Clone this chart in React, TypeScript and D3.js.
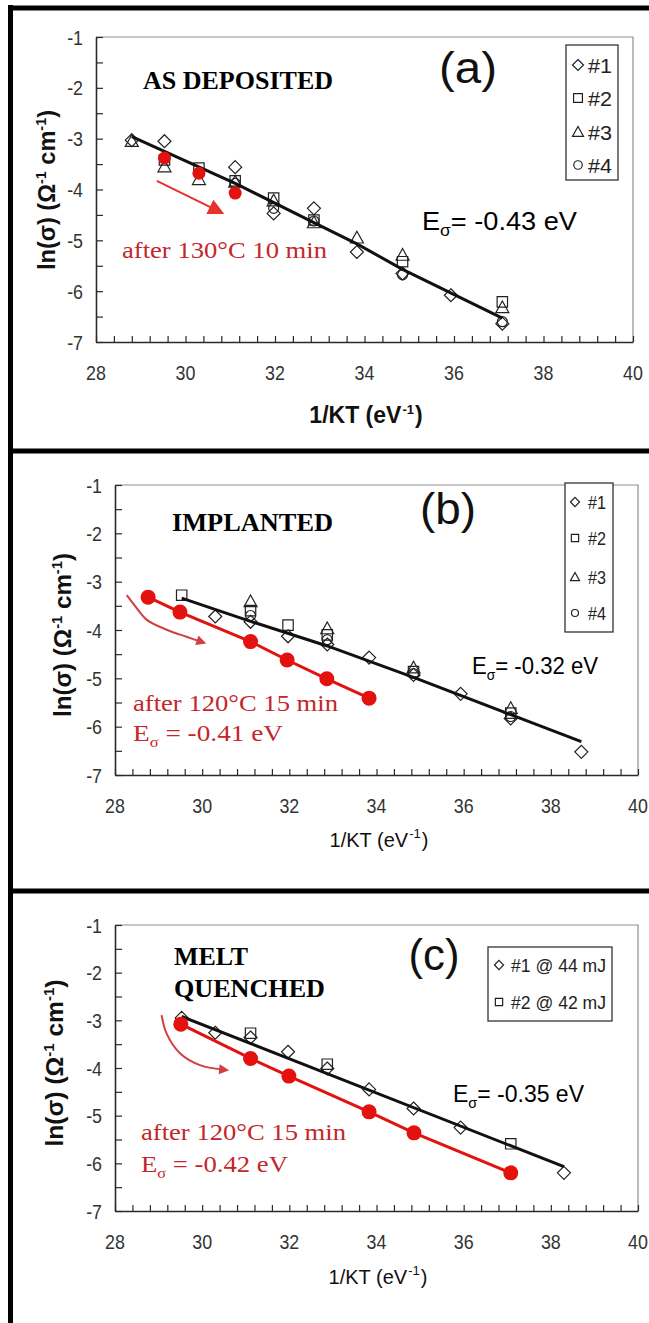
import React, { useEffect, useRef } from 'react';
import * as d3 from 'd3';

const W = 649;
const H = 1323;
const SERIF = '"Liberation Serif", "Times New Roman", serif';
const SANS = '"Liberation Sans", Arial, sans-serif';
const RED = '#e3120f';
const RED_TEXT = '#c4262b';

// tick values / labels shared by all three panels
const xTickLabels = [28, 30, 32, 34, 36, 38, 40];
const yTickLabels = [-1, -2, -3, -4, -5, -6, -7];
const xMinorTicks = d3.range(31).map(i => 28 + i * 0.4);
const yMinorTicks = d3.range(13).map(i => -7 + i * 0.5);

// ---- (a) AS DEPOSITED ----
const aDiamondX = [28.8, 29.53, 31.11, 31.97, 32.87, 33.83, 34.85, 35.93, 37.08];
const aDiamondY = [-3.03, -3.05, -3.56, -4.47, -4.37, -5.23, -5.65, -6.08, -6.64];
const aSquareX = [29.53, 30.3, 31.11, 31.97, 32.87, 34.85, 37.08];
const aSquareY = [-3.42, -3.58, -3.83, -4.17, -4.6, -5.42, -6.21];
const aTriangleX = [28.8, 29.53, 30.3, 31.11, 31.97, 32.87, 33.83, 34.85, 37.08];
const aTriangleY = [-3.05, -3.55, -3.8, -3.85, -4.22, -4.65, -4.95, -5.29, -6.32];
const aCircleX = [31.11, 31.97, 32.87, 34.85, 37.08];
const aCircleY = [-3.88, -4.37, -4.62, -5.68, -6.6];
const aRedX = [29.53, 30.3, 31.11];
const aRedY = [-3.38, -3.68, -4.07];
const aFitX = [28.8, 31.11, 32.87, 33.83, 34.85, 37.08];
const aFitY = [-2.96, -3.88, -4.65, -5.07, -5.57, -6.53];
const aArrowX = [29.36, 30.77];
const aArrowY = [-3.83, -4.44];

// ---- (b) IMPLANTED ----
const bDiamondX = [30.3, 31.11, 31.97, 32.87, 33.83, 34.85, 35.93, 37.08, 38.7];
const bDiamondY = [-3.72, -3.83, -4.13, -4.3, -4.57, -4.93, -5.32, -5.83, -6.52];
const bSquareX = [29.53, 31.11, 31.97, 32.87, 34.85, 37.08];
const bSquareY = [-3.28, -3.6, -3.9, -4.1, -4.86, -5.72];
const bTriangleX = [31.11, 32.87, 34.85, 37.08];
const bTriangleY = [-3.41, -3.97, -4.78, -5.62];
const bCircleX = [31.11, 32.87, 34.85, 37.08];
const bCircleY = [-3.7, -4.2, -4.9, -5.79];
const bRedX = [28.76, 29.49, 31.11, 31.95, 32.86, 33.83];
const bRedY = [-3.32, -3.63, -4.24, -4.62, -5.01, -5.41];
const bFitX = [29.53, 31.11, 32.87, 34.85, 37.08, 38.7];
const bFitY = [-3.34, -3.82, -4.33, -4.98, -5.75, -6.31];
const bArrowX = [28.27, 28.5, 28.73, 29.2, 29.64, 30.03];
const bArrowY = [-3.28, -3.55, -3.79, -4.0, -4.14, -4.26];

// ---- (c) MELT QUENCHED ----
const cDiamondX = [29.53, 30.3, 31.11, 31.97, 32.87, 33.83, 34.85, 35.93, 38.3];
const cDiamondY = [-2.95, -3.26, -3.36, -3.66, -4.01, -4.45, -4.85, -5.25, -6.2];
const cSquareX = [31.11, 32.87, 37.08];
const cSquareY = [-3.27, -3.92, -5.59];
const cRedX = [29.51, 31.11, 31.99, 33.83, 34.86, 37.08];
const cRedY = [-3.08, -3.8, -4.17, -4.92, -5.36, -6.2];
const cFitX = [29.53, 38.3];
const cFitY = [-2.92, -6.07];
const cArrowX = [29.07, 29.18, 29.49, 29.95, 30.55];
const cArrowY = [-2.89, -3.27, -3.69, -3.94, -4.04];

const shapePath = (shape, s) => {
  if (shape === 'diamond') return `M0,${-s}L${s},0L0,${s}L${-s},0Z`;
  if (shape === 'square') return `M${-s},${-s}H${s}V${s}H${-s}Z`;
  if (shape === 'triangle') return `M0,${-s}L${s},${s * 0.8}H${-s}Z`;
  return d3.symbol(d3.symbolCircle, Math.PI * s * s)();
};
const shapeSize = { diamond: 6.5, square: 5.2, triangle: 6.5, circle: 5 };

const panels = [
  {
    left: 96, right: 633, top: 37, bottom: 342,
    series: [
      { shape: 'diamond', xs: aDiamondX, ys: aDiamondY },
      { shape: 'square', xs: aSquareX, ys: aSquareY },
      { shape: 'triangle', xs: aTriangleX, ys: aTriangleY },
      { shape: 'circle', xs: aCircleX, ys: aCircleY },
    ],
    fit: [aFitX, aFitY],
    red: { xs: aRedX, ys: aRedY, line: false, r: 6.5 },
    arrow: { xs: aArrowX, ys: aArrowY, curved: false, color: '#e8302c', width: 2, head: 'headBig' },
    labels: [
      { text: 'AS DEPOSITED', x: 143, y: 89, size: 26, font: SERIF, weight: 'bold', fill: '#000', len: 190 },
      { text: '(a)', x: 468, y: 83, size: 45, font: SANS, fill: '#111', len: 58, anchor: 'middle' },
      { text: 'after 130°C 10 min', x: 122, y: 258, size: 23, font: SERIF, fill: RED_TEXT, len: 205 },
    ],
    energies: [
      { value: '-0.43 eV', x: 422, y: 230, size: 25, font: SANS, fill: '#000', len: 155, gap: '' },
    ],
    yTitle: { x: 47, y: 190, len: 160, bold: true },
    xTitle: { x: 366, y: 415, bold: true, size: 23 },
    legend: { x: 566, y: 45, w: 52, h: 135, ys: [65, 98, 132, 165], symX: 578, textX: 588, size: 21, len: 24, s: 0.85,
      items: [['diamond', '#1'], ['square', '#2'], ['triangle', '#3'], ['circle', '#4']] },
  },
  {
    left: 115, right: 638, top: 485, bottom: 775,
    series: [
      { shape: 'diamond', xs: bDiamondX, ys: bDiamondY },
      { shape: 'square', xs: bSquareX, ys: bSquareY },
      { shape: 'triangle', xs: bTriangleX, ys: bTriangleY },
      { shape: 'circle', xs: bCircleX, ys: bCircleY },
    ],
    fit: [bFitX, bFitY],
    red: { xs: bRedX, ys: bRedY, line: true, r: 7.5 },
    arrow: { xs: bArrowX, ys: bArrowY, curved: true, color: '#d04040', width: 2, head: 'headSmall' },
    labels: [
      { text: 'IMPLANTED', x: 172, y: 531, size: 26, font: SERIF, weight: 'bold', fill: '#000', len: 161 },
      { text: '(b)', x: 448, y: 524, size: 45, font: SANS, fill: '#111', len: 56, anchor: 'middle' },
      { text: 'after 120°C 15 min', x: 133, y: 711, size: 23, font: SERIF, fill: RED_TEXT, len: 205 },
    ],
    energies: [
      { value: '-0.32 eV', x: 472, y: 674, size: 24, font: SANS, fill: '#000', len: 126, gap: '' },
      { value: '-0.41 eV', x: 133, y: 741, size: 23, font: SERIF, fill: RED_TEXT, len: 150, gap: ' ' },
    ],
    yTitle: { x: 63, y: 635, len: 164, bold: true },
    xTitle: { x: 379, y: 840, bold: false, size: 20 },
    legend: { x: 565, y: 483, w: 48, h: 149, ys: [502, 538, 577, 613], symX: 575, textX: 588, size: 19, len: 18, s: 0.7,
      items: [['diamond', '#1'], ['square', '#2'], ['triangle', '#3'], ['circle', '#4']] },
  },
  {
    left: 115, right: 638, top: 925, bottom: 1211,
    series: [
      { shape: 'diamond', xs: cDiamondX, ys: cDiamondY },
      { shape: 'square', xs: cSquareX, ys: cSquareY },
    ],
    fit: [cFitX, cFitY],
    red: { xs: cRedX, ys: cRedY, line: true, r: 7.5 },
    arrow: { xs: cArrowX, ys: cArrowY, curved: true, color: '#d04040', width: 2, head: 'headSmall' },
    labels: [
      { text: 'MELT', x: 174, y: 965, size: 26, font: SERIF, weight: 'bold', fill: '#000', len: 74 },
      { text: 'QUENCHED', x: 174, y: 997, size: 26, font: SERIF, weight: 'bold', fill: '#000', len: 151 },
      { text: '(c)', x: 434, y: 970, size: 45, font: SANS, fill: '#111', len: 51, anchor: 'middle' },
      { text: 'after 120°C 15 min', x: 141, y: 1140, size: 23, font: SERIF, fill: RED_TEXT, len: 205 },
    ],
    energies: [
      { value: '-0.35 eV', x: 453, y: 1102, size: 24, font: SANS, fill: '#000', len: 131, gap: '' },
      { value: '-0.42 eV', x: 141, y: 1172, size: 23, font: SERIF, fill: RED_TEXT, len: 147, gap: ' ' },
    ],
    yTitle: { x: 55, y: 1063, len: 167, bold: true },
    xTitle: { x: 378, y: 1277, bold: false, size: 20 },
    legend: { x: 488, y: 947, w: 124, h: 74, ys: [965, 1002], symX: 499, textX: 511, size: 19, len: 95, s: 0.7,
      items: [['diamond', '#1 @ 44 mJ'], ['square', '#2 @ 42 mJ']] },
  },
];

function drawPanel(svg, p) {
  const x = d3.scaleLinear().domain([28, 40]).range([p.left, p.right]);
  const y = d3.scaleLinear().domain([-7, -1]).range([p.bottom, p.top]);
  const g = svg.append('g');

  // light top / right edges of the plot area
  g.append('path')
    .attr('d', `M${p.left},${p.top}H${p.right}V${p.bottom}`)
    .attr('fill', 'none')
    .attr('stroke', '#8f8f8f')
    .attr('stroke-width', 1.2);

  // axes, ticks pointing inward
  const gx = g.append('g')
    .attr('transform', `translate(0,${p.bottom})`)
    .call(d3.axisBottom(x).tickValues(xMinorTicks).tickSizeInner(-6).tickSizeOuter(0).tickFormat(() => ''));
  const gy = g.append('g')
    .attr('transform', `translate(${p.left},0)`)
    .call(d3.axisLeft(y).tickValues(yMinorTicks).tickSizeInner(-7).tickSizeOuter(0).tickFormat(() => ''));
  [gx, gy].forEach(a => {
    a.select('.domain').attr('stroke', '#2a2a2a').attr('stroke-width', 1.6);
    a.selectAll('.tick line').attr('stroke', '#2a2a2a').attr('stroke-width', 1.2);
  });

  // tick labels
  xTickLabels.forEach(v => {
    g.append('text')
      .attr('transform', `translate(${x(v)},${p.bottom + 30}) scale(0.85,1)`)
      .attr('dy', '0.36em')
      .attr('text-anchor', 'middle')
      .style('font-family', SANS).style('font-size', '21px').style('fill', '#333')
      .text(v);
  });
  yTickLabels.forEach(v => {
    g.append('text')
      .attr('transform', `translate(${p.left - 13},${y(v)}) scale(0.85,1)`)
      .attr('dy', '0.36em')
      .attr('text-anchor', 'end')
      .style('font-family', SANS).style('font-size', '21px').style('fill', '#333')
      .text(v);
  });

  // axis titles
  const yt = g.append('text')
    .attr('transform', `translate(${p.yTitle.x},${p.yTitle.y}) rotate(-90)`)
    .attr('dy', '0.35em')
    .attr('text-anchor', 'middle')
    .attr('textLength', p.yTitle.len)
    .attr('lengthAdjust', 'spacingAndGlyphs')
    .style('font-family', SANS).style('font-size', '23px')
    .style('font-weight', p.yTitle.bold ? 'bold' : 'normal').style('fill', '#111');
  yt.append('tspan').text('ln(σ) (Ω');
  yt.append('tspan').attr('dy', -9).style('font-size', '14px').text('-1');
  yt.append('tspan').attr('dy', 9).text(' cm');
  yt.append('tspan').attr('dy', -9).style('font-size', '14px').text('-1');
  yt.append('tspan').attr('dy', 9).text(')');

  const xt = g.append('text')
    .attr('x', p.xTitle.x).attr('y', p.xTitle.y)
    .attr('dy', '0.35em')
    .attr('text-anchor', 'middle')
    .style('font-family', SANS).style('font-size', `${p.xTitle.size}px`)
    .style('font-weight', p.xTitle.bold ? 'bold' : 'normal').style('fill', '#111');
  xt.append('tspan').text('1/KT (eV');
  xt.append('tspan').attr('dx', 1).attr('dy', -9).style('font-size', '13px').text('-1');
  xt.append('tspan').attr('dx', 1).attr('dy', 9).text(')');

  // hollow markers
  p.series.forEach(s => {
    g.selectAll(null)
      .data(s.xs.map((v, i) => [v, s.ys[i]]))
      .enter()
      .append('path')
      .attr('transform', d => `translate(${x(d[0])},${y(d[1])})`)
      .attr('d', shapePath(s.shape, shapeSize[s.shape]))
      .attr('fill', 'none')
      .attr('stroke', '#222')
      .attr('stroke-width', 1.2);
  });

  // black fit line
  const line = d3.line().x(d => x(d[0])).y(d => y(d[1]));
  g.append('path')
    .attr('d', line(p.fit[0].map((v, i) => [v, p.fit[1][i]])))
    .attr('fill', 'none')
    .attr('stroke', '#111')
    .attr('stroke-width', 3);

  // red annealed data
  const redPts = p.red.xs.map((v, i) => [v, p.red.ys[i]]);
  if (p.red.line) {
    g.append('path')
      .attr('d', line(redPts))
      .attr('fill', 'none')
      .attr('stroke', RED)
      .attr('stroke-width', 3);
  }
  g.selectAll(null)
    .data(redPts)
    .enter()
    .append('circle')
    .attr('cx', d => x(d[0]))
    .attr('cy', d => y(d[1]))
    .attr('r', p.red.r)
    .attr('fill', RED);

  // arrow
  const arrowLine = d3.line().x(d => x(d[0])).y(d => y(d[1]))
    .curve(p.arrow.curved ? d3.curveCatmullRom : d3.curveLinear);
  g.append('path')
    .attr('d', arrowLine(p.arrow.xs.map((v, i) => [v, p.arrow.ys[i]])))
    .attr('fill', 'none')
    .attr('stroke', p.arrow.color)
    .attr('stroke-width', p.arrow.width)
    .attr('marker-end', `url(#${p.arrow.head})`);

  // text labels
  p.labels.forEach(l => {
    g.append('text')
      .attr('x', l.x).attr('y', l.y)
      .attr('text-anchor', l.anchor || 'start')
      .attr('textLength', l.len)
      .attr('lengthAdjust', 'spacingAndGlyphs')
      .style('font-family', l.font).style('font-size', `${l.size}px`)
      .style('font-weight', l.weight || 'normal').style('fill', l.fill)
      .text(l.text);
  });

  // activation energies
  p.energies.forEach(e => {
    const t = g.append('text')
      .attr('x', e.x).attr('y', e.y)
      .attr('textLength', e.len)
      .attr('lengthAdjust', 'spacingAndGlyphs')
      .style('font-family', e.font).style('font-size', `${e.size}px`).style('fill', e.fill);
    t.append('tspan').text('E');
    t.append('tspan').attr('dy', 6).style('font-size', `${Math.round(e.size * 0.62)}px`).text('σ');
    t.append('tspan').attr('dy', -6).text(`${e.gap}= ${e.value}`);
  });

  // legend
  const lg = p.legend;
  g.append('rect')
    .attr('x', lg.x).attr('y', lg.y).attr('width', lg.w).attr('height', lg.h)
    .attr('fill', '#fff').attr('stroke', '#333').attr('stroke-width', 1.3);
  lg.items.forEach(([shape, label], i) => {
    g.append('path')
      .attr('transform', `translate(${lg.symX},${lg.ys[i]})`)
      .attr('d', shapePath(shape, shapeSize[shape] * lg.s))
      .attr('fill', 'none').attr('stroke', '#222').attr('stroke-width', 1.2);
    g.append('text')
      .attr('x', lg.textX).attr('y', lg.ys[i])
      .attr('dy', '0.36em')
      .attr('textLength', lg.len)
      .attr('lengthAdjust', 'spacingAndGlyphs')
      .style('font-family', SANS).style('font-size', `${lg.size}px`).style('fill', '#222')
      .text(label);
  });
}

export default function App() {
  const svgRef = useRef(null);

  useEffect(() => {
    const svg = d3.select(svgRef.current);
    svg.selectAll('*').remove();

    const defs = svg.append('defs');
    [['headBig', '#e8302c', 20, 16], ['headSmall', '#d04040', 12, 10]].forEach(([id, color, w, h]) => {
      defs.append('marker')
        .attr('id', id)
        .attr('viewBox', '0 0 10 10')
        .attr('refX', 7).attr('refY', 5)
        .attr('markerUnits', 'userSpaceOnUse')
        .attr('markerWidth', w).attr('markerHeight', h)
        .attr('orient', 'auto')
        .append('path')
        .attr('d', 'M0,0L10,5L0,10Z')
        .attr('fill', color);
    });

    svg.append('rect').attr('width', W).attr('height', H).attr('fill', '#fff');
    panels.forEach(p => drawPanel(svg, p));

    // heavy black frame around / between the panels
    const frame = svg.append('g').attr('stroke', '#000').attr('stroke-width', 5);
    frame.append('line').attr('x1', 10.5).attr('x2', 10.5).attr('y1', 5).attr('y2', H);
    [8, 451, 891].forEach(yy => {
      frame.append('line').attr('x1', 8).attr('x2', W).attr('y1', yy).attr('y2', yy);
    });
  }, []);

  return (
    <svg
      ref={svgRef}
      width={W}
      height={H}
      style={{ position: 'absolute', left: 0, top: 0, background: '#fff' }}
    />
  );
}
